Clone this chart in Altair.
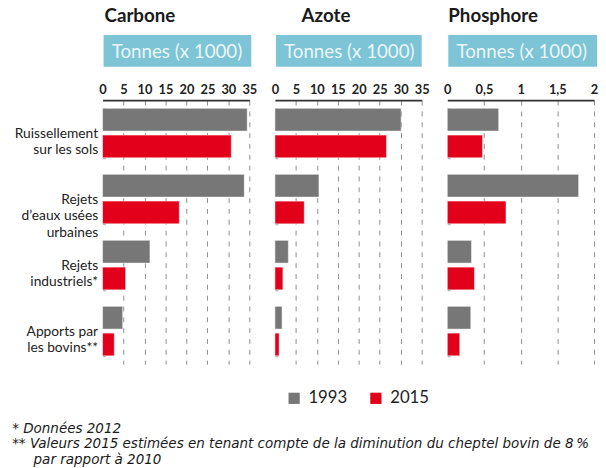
import altair as alt
import pandas as pd

categories = ["Ruissellement|sur les sols", "Rejets|d’eaux usées|urbaines",
              "Rejets|industriels*", "Apports par|les bovins**"]
years = ["1993", "2015"]

carbone_1993 = [34.5, 33.8, 11.3, 4.8]
carbone_2015 = [30.7, 18.3, 5.5, 2.8]
azote_1993 = [30.1, 10.5, 3.2, 1.7]
azote_2015 = [26.6, 7.0, 1.9, 1.0]
phosphore_1993 = [0.70, 1.79, 0.33, 0.32]
phosphore_2015 = [0.48, 0.80, 0.37, 0.17]

panel_titles = ["Carbone", "Azote", "Phosphore"]
unit_label = "Tonnes (x 1000)"
x_domains = [[0, 35], [0, 35], [0, 2]]
x_ticks = [[0, 5, 10, 15, 20, 25, 30, 35],
           [0, 5, 10, 15, 20, 25, 30, 35],
           [0, 0.5, 1, 1.5, 2]]
footnotes = ["* Données 2012",
             "** Valeurs 2015 estimées en tenant compte de la diminution du cheptel bovin de 8\u202f%",
             "\u200b\u00a0\u00a0\u00a0\u00a0\u00a0par rapport à 2010"]

GREY = "#777777"
RED = "#e3001b"
BLUE = "#7cc4d6"
FONT = "Lato"
W = 149
H = 268


def panel(idx, v93, v15, first, title_dx, box_x2):
    rows = []
    for c, a, b in zip(categories, v93, v15):
        rows.append({"category": c, "year": years[0], "value": a})
        rows.append({"category": c, "year": years[1], "value": b})
    df = pd.DataFrame(rows)

    yaxis = alt.Axis(title=None, domain=False, ticks=False, labels=first,
                     labelFont=FONT, labelFontSize=14, labelColor="#222222",
                     labelPadding=5, labelLineHeight=17, labelBaseline="middle",
                     labelExpr="split(datum.label, '|')",
                     grid=True, tickBand="extent", gridDash=[3, 1000],
                     gridColor="#999999", gridWidth=1)

    bars = alt.Chart(df).mark_bar(stroke="white", strokeWidth=0.5).encode(
        x=alt.X("value:Q",
                scale=alt.Scale(domain=x_domains[idx], nice=False, zero=True),
                axis=alt.Axis(orient="top", values=x_ticks[idx], title=None,
                              domainColor="#333333", domainWidth=2,
                              tickColor="#333333", tickSize=0,
                              labelFont=FONT, labelFontSize=13, labelFontWeight="bold",
                              labelColor="#222222", labelPadding=4,
                              labelOverlap=False, labelFlush=False,
                              labelExpr="replace(toString(datum.value), '.', ',')",
                              grid=True, gridDash=[5, 6], gridColor="#8c8c8c",
                              gridWidth=1,
                              gridOpacity={"condition": {"test": "datum.value === 0", "value": 0}, "value": 1})),
        y=alt.Y("category:N", sort=categories, title=None,
                scale=alt.Scale(paddingInner=0.25, paddingOuter=0.125), axis=yaxis),
        yOffset=alt.YOffset("year:N", sort=years,
                            scale=alt.Scale(paddingInner=0.15, paddingOuter=0)),
        color=alt.Color("year:N", scale=alt.Scale(domain=years, range=[GREY, RED]),
                        legend=alt.Legend(title=None, orient="none", legendX=186, legendY=294,
                                          direction="horizontal", symbolType="square",
                                          symbolSize=130, symbolStrokeWidth=0,
                                          labelFont=FONT, labelFontSize=17,
                                          labelColor="#222222", columnPadding=20,
                                          labelOffset=6)),
    )

    hdr = pd.DataFrame({"title": [panel_titles[idx]], "unit": [unit_label]})
    box = alt.Chart(hdr).mark_rect(color=BLUE).encode(
        x=alt.value(1), x2=alt.value(box_x2), y=alt.value(-66), y2=alt.value(-34))
    unit_txt = alt.Chart(hdr).mark_text(font=FONT, fontSize=19, color="#eaf6f9",
                                        align="center", baseline="alphabetic").encode(
        x=alt.value(W / 2 + 1), y=alt.value(-43), text="unit:N")
    title_txt = alt.Chart(hdr).mark_text(font=FONT, fontSize=19, fontWeight="bold",
                                         color="#1a1a1a", align="left",
                                         baseline="alphabetic").encode(
        x=alt.value(title_dx), y=alt.value(-79), text="title:N")

    return alt.layer(bars, box, unit_txt, title_txt).properties(width=W, height=H)


p1 = panel(0, carbone_1993, carbone_2015, True, 2, W + 2)
p2 = panel(1, azote_1993, azote_2015, False, 27, W)
p3 = panel(2, phosphore_1993, phosphore_2015, False, 1, W + 3)

chart = alt.hconcat(p1, p2, p3, spacing=26, bounds="flush").properties(
    padding={"left": 4, "top": -4, "right": 0, "bottom": 0},
    title=alt.TitleParams(text=footnotes, orient="bottom", anchor="start",
                          font="DejaVu Sans", fontSize=13.7, fontStyle="italic",
                          fontWeight="normal", color="#1a1a1a",
                          lineHeight=15.5, offset=16, dx=-2),
).configure_view(stroke=None).configure_scale(
    bandWithNestedOffsetPaddingInner=0.25, bandWithNestedOffsetPaddingOuter=0.125,
    offsetBandPaddingInner=0.15, offsetBandPaddingOuter=0,
).resolve_scale(color="shared")

chart.save("out.html", embed_options={"renderer": "svg", "actions": False})
